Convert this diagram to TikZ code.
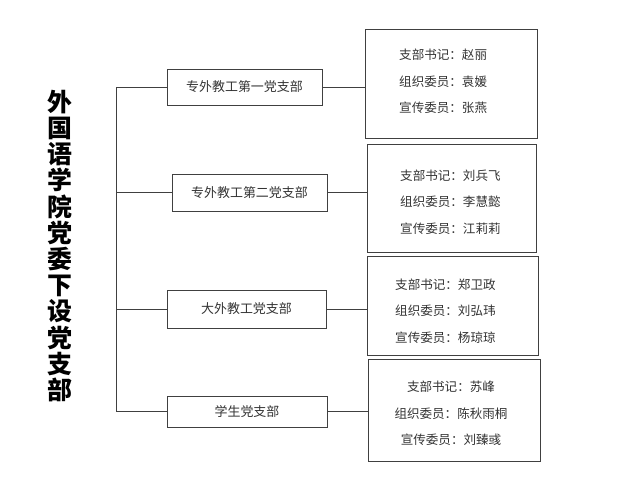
\documentclass[tikz,border=0pt]{standalone}
\usepackage{fontspec}
\newfontfamily\cjk{Noto Sans CJK SC}
\begin{document}
\begin{tikzpicture}[x=1bp,y=-1bp,
		wire/.style={draw=black!75, line width=0.8bp},
		branch/.style={wire, rectangle, inner sep=0, text=black!80, font=\cjk\fontsize{13}{15}\selectfont},
		member/.style={wire, rectangle, inner sep=0},
		names/.style={inner sep=0, text=black!80, font=\cjk\fontsize{12.6}{26.5}\selectfont}]
			\useasboundingbox (0,0) rectangle (640,502);
			\node [inner sep=0, align=center, font=\cjk\bfseries\fontsize{25}{26.3}\selectfont] (T) at (60,246)
				{外\\国\\语\\学\\院\\党\\委\\下\\设\\党\\支\\部};
			\node [branch, minimum width=155bp, minimum height=36bp] (B1) at (244.5,87) {专外教工第一党支部};
			\node [branch, minimum width=155bp, minimum height=37bp] (B2) at (249.5,192.5) {专外教工第二党支部};
			\node [branch, minimum width=159bp, minimum height=38bp] (B3) at (246.5,309) {大外教工党支部};
			\node [branch, minimum width=160bp, minimum height=31bp] (B4) at (247,411.5) {学生党支部};
			\node [member, minimum width=172bp, minimum height=109bp] (D1) at (451,83.5) {};
			\node [member, minimum width=169bp, minimum height=108bp] (D2) at (451.5,198) {};
			\node [member, minimum width=171bp, minimum height=99bp] (D3) at (452.5,305.5) {};
			\node [member, minimum width=172bp, minimum height=102bp] (D4) at (454,410) {};
			\node [names, align=left, anchor=west] (N1) at (399,81.5)
				{支部书记：赵丽\\组织委员：袁媛\\宣传委员：张燕};
			\node [names, align=left, anchor=west] (N2) at (400,202)
				{支部书记：刘兵飞\\组织委员：李慧懿\\宣传委员：江莉莉};
			\node [names, align=left, anchor=west] (N3) at (395,311)
				{支部书记：郑卫政\\组织委员：刘弘玮\\宣传委员：杨琼琼};
			\node [names, align=center] (N4) at (451,413.5)
				{支部书记：苏峰\\组织委员：陈秋雨桐\\宣传委员：刘臻彧};
			\coordinate (J) at (116,0);
			\draw [wire] (B1.west) -- (B1.west -| J) -- (B4.west -| J) -- (B4.west);
			\draw [wire] (B2.west) -- (B2.west -| J);
			\draw [wire] (B3.west) -- (B3.west -| J);
			\draw [wire] (B1.east) -- (B1.east -| D1.west);
			\draw [wire] (B2.east) -- (B2.east -| D2.west);
			\draw [wire] (B3.east) -- (B3.east -| D3.west);
			\draw [wire] (B4.east) -- (B4.east -| D4.west);
		\end{tikzpicture}
\end{document}
